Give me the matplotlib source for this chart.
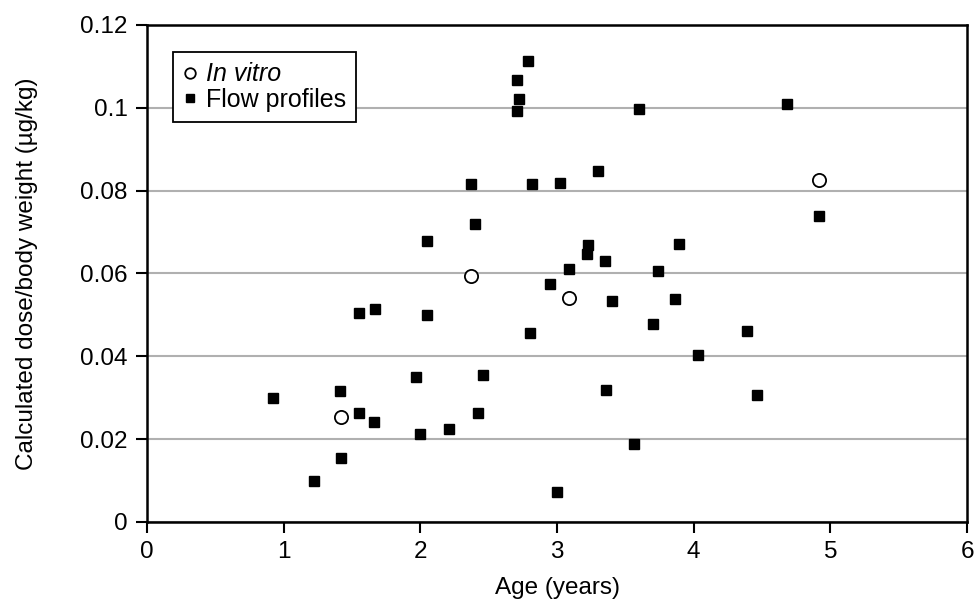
import matplotlib
matplotlib.use("Agg")
import matplotlib.pyplot as plt

plt.rcParams['font.family'] = ['Liberation Sans', 'DejaVu Sans']

# in vitro points (age, dose/bw)
vitro_age = [1.42, 2.37, 3.09, 4.92]
vitro_dose = [0.0254, 0.0595, 0.0541, 0.0826]

# flow profile points
flow_age = [0.92, 1.22, 1.41, 1.42, 1.55, 1.67, 1.55, 1.66, 2.05, 1.97,
            2.00, 2.21, 2.46, 2.42, 2.95, 2.80, 3.00, 2.79, 2.71, 2.72,
            2.71, 2.37, 2.40, 2.05, 2.82, 3.02, 3.30, 3.60, 4.68, 4.92,
            3.23, 3.22, 3.09, 3.35, 3.89, 3.74, 3.40, 3.86, 3.70, 4.39,
            4.03, 3.36, 4.46, 3.56]
flow_dose = [0.0299, 0.0098, 0.0317, 0.0155, 0.0505, 0.0514, 0.0262, 0.0241, 0.0500, 0.0351,
             0.0213, 0.0225, 0.0355, 0.0262, 0.0575, 0.0457, 0.0072, 0.1112, 0.1066, 0.1021,
             0.0993, 0.0817, 0.0719, 0.0679, 0.0817, 0.0818, 0.0847, 0.0998, 0.1009, 0.0740,
             0.0668, 0.0646, 0.0612, 0.0631, 0.0672, 0.0607, 0.0533, 0.0538, 0.0478, 0.0461,
             0.0402, 0.0319, 0.0306, 0.0188]

xticks = [0, 1, 2, 3, 4, 5, 6]
yticks = [0, 0.02, 0.04, 0.06, 0.08, 0.1, 0.12]
ytick_labels = ['0', '0.02', '0.04', '0.06', '0.08', '0.1', '0.12']

fig = plt.figure(figsize=(9.75, 6.05), dpi=100)
ax = fig.add_axes([0.1508, 0.1372, 0.8410, 0.8215])

ax.plot(vitro_age, vitro_dose, 'o', ms=9.5, mfc='white', mec='black', mew=1.3,
        label='In vitro', zorder=3)
ax.plot(flow_age, flow_dose, 's', ms=6.5, color='black', label='Flow profiles', zorder=3)

ax.set_xlim(0, 6)
ax.set_ylim(0, 0.12)
ax.set_xticks(xticks)
ax.set_yticks(yticks)
ax.set_yticklabels(ytick_labels)
ax.yaxis.grid(True, color='#b0b0b0', lw=1.5)
ax.set_axisbelow(True)

for s in ax.spines.values():
    s.set_linewidth(1.8)
ax.tick_params(direction='out', length=8, width=1.5, labelsize=17.5, pad=6)

ax.set_xlabel('Age (years)', fontsize=17.5, labelpad=10)
ax.set_ylabel('Calculated dose/body weight (µg/kg)', fontsize=17.5, labelpad=30)

leg = ax.legend(loc='upper left', bbox_to_anchor=(0.032, 0.945), fontsize=18,
                handlelength=0.5, handletextpad=0.4, borderpad=0.4,
                labelspacing=0.05, borderaxespad=0, fancybox=False, framealpha=1,
                edgecolor='black', markerscale=0.8)
leg.get_frame().set_linewidth(1.3)
leg.get_texts()[0].set_fontstyle('italic')

fig.savefig('out.png', dpi=100)
